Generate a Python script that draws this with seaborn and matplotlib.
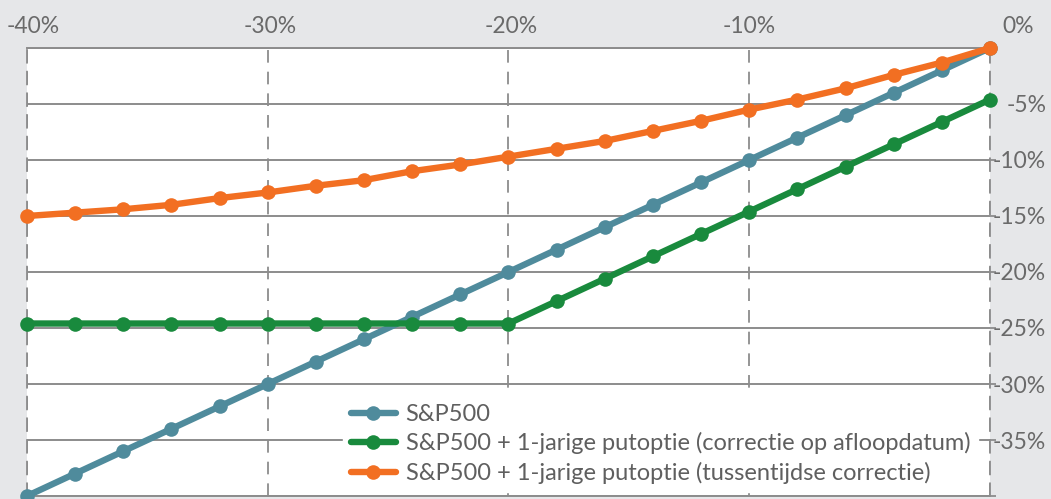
import matplotlib
matplotlib.use("Agg")
import matplotlib.pyplot as plt
import matplotlib.transforms as mtransforms
import seaborn as sns
import pandas as pd

# Market move of the S&P500 over one year (%)
market_move = [-40, -38, -36, -34, -32, -30, -28, -26, -24, -22, -20,
               -18, -16, -14, -12, -10, -8, -6, -4, -2, 0]

# Portfolio results (%)
sp500 = [-40, -38, -36, -34, -32, -30, -28, -26, -24, -22, -20,
         -18, -16, -14, -12, -10, -8, -6, -4, -2, 0]
put_at_expiry = [-24.6, -24.6, -24.6, -24.6, -24.6, -24.6, -24.6, -24.6, -24.6, -24.6, -24.6,
                 -22.6, -20.6, -18.6, -16.6, -14.6, -12.6, -10.6, -8.6, -6.6, -4.6]
put_interim = [-15.0, -14.7, -14.4, -14.0, -13.4, -12.9, -12.3, -11.8, -11.0, -10.4, -9.7,
               -9.0, -8.3, -7.4, -6.5, -5.5, -4.6, -3.6, -2.4, -1.3, 0.0]

series_labels = [
    "S&P500",
    "S&P500 + 1-jarige putoptie (correctie op afloopdatum)",
    "S&P500 + 1-jarige putoptie (tussentijdse correctie)",
]
series_colors = ["#4f8b9c", "#198a3d", "#f26f22"]

x_ticks = [-40, -30, -20, -10, 0]
x_tick_labels = ["-40%", "-30%", "-20%", "-10%", "0%"]
y_ticks = [-40, -35, -30, -25, -20, -15, -10, -5, 0]
y_tick_labels = ["", "-35%", "-30%", "-25%", "-20%", "-15%", "-10%", "-5%", ""]

sns.set_theme(style="white")
plt.rcParams["font.family"] = ["Lato", "DejaVu Sans"]

BG = "#e6e7e9"
GRID = "#8c8c8c"
TEXT = "#6a6a6a"
FS = 16.5
FS_LEG = 17

fig = plt.figure(figsize=(10.51, 4.99), dpi=100, facecolor=BG)
ax = fig.add_axes([27 / 1051, 1 - 496 / 499, (990 - 27) / 1051, (496 - 48) / 499])
ax.set_facecolor("white")

for values, label, color in zip([sp500, put_at_expiry, put_interim], series_labels, series_colors):
    df = pd.DataFrame({"x": market_move, "y": values})
    sns.lineplot(data=df, x="x", y="y", ax=ax, color=color, label=label,
                 linewidth=4.6, marker="o", markersize=10.5, markeredgewidth=0,
                 clip_on=False, zorder=3)

ax.set_xlim(-40, 0)
ax.set_ylim(-40, 0)
ax.set_xlabel("")
ax.set_ylabel("")

# Grid: dashed verticals, solid horizontals
ax.set_xticks(x_ticks)
ax.set_yticks(y_ticks)
ax.xaxis.grid(True, color=GRID, linewidth=1.3, linestyle=(0, (7, 5)), zorder=1)
ax.yaxis.grid(True, color=GRID, linewidth=1.4, linestyle="-", zorder=1)
ax.set_axisbelow(True)

for side in ["left", "right"]:
    ax.spines[side].set_visible(True)
    ax.spines[side].set_color(GRID)
    ax.spines[side].set_linewidth(1.3)
    ax.spines[side].set_linestyle((0, (7, 5)))
for side in ["top", "bottom"]:
    ax.spines[side].set_visible(True)
    ax.spines[side].set_color(GRID)
    ax.spines[side].set_linewidth(1.4)

# X labels on top
ax.xaxis.tick_top()
ax.xaxis.set_label_position("top")
ax.set_xticklabels(x_tick_labels, fontsize=FS, color=TEXT)
ax.tick_params(axis="x", which="both", top=True, bottom=False, length=0, pad=8)
shifts = [6, 2, 3, 0, 28]
for lbl, dx in zip(ax.get_xticklabels(), shifts):
    lbl.set_transform(lbl.get_transform() + mtransforms.ScaledTranslation(dx / 100, 0, fig.dpi_scale_trans))

# Y labels on the right, right-aligned
ax.yaxis.tick_right()
ax.set_yticklabels(y_tick_labels, fontsize=FS, color=TEXT)
ax.tick_params(axis="y", which="both", right=True, left=False, length=4, width=1.3,
               color=GRID, direction="out", pad=36.5)
for lbl in ax.get_yticklabels():
    lbl.set_horizontalalignment("right")

leg = ax.legend(loc="upper left", bbox_to_anchor=(343 / 1051, 1 - 396 / 499),
                bbox_transform=fig.transFigure, frameon=True, fancybox=False,
                facecolor="white", edgecolor="white", framealpha=1,
                fontsize=FS_LEG, handlelength=1.9, handletextpad=0.42,
                labelspacing=0.32, borderpad=0.33, borderaxespad=0)
for t in leg.get_texts():
    t.set_color("#5f5f5f")
leg.set_zorder(5)

fig.savefig("out.png", dpi=100, facecolor=BG)
